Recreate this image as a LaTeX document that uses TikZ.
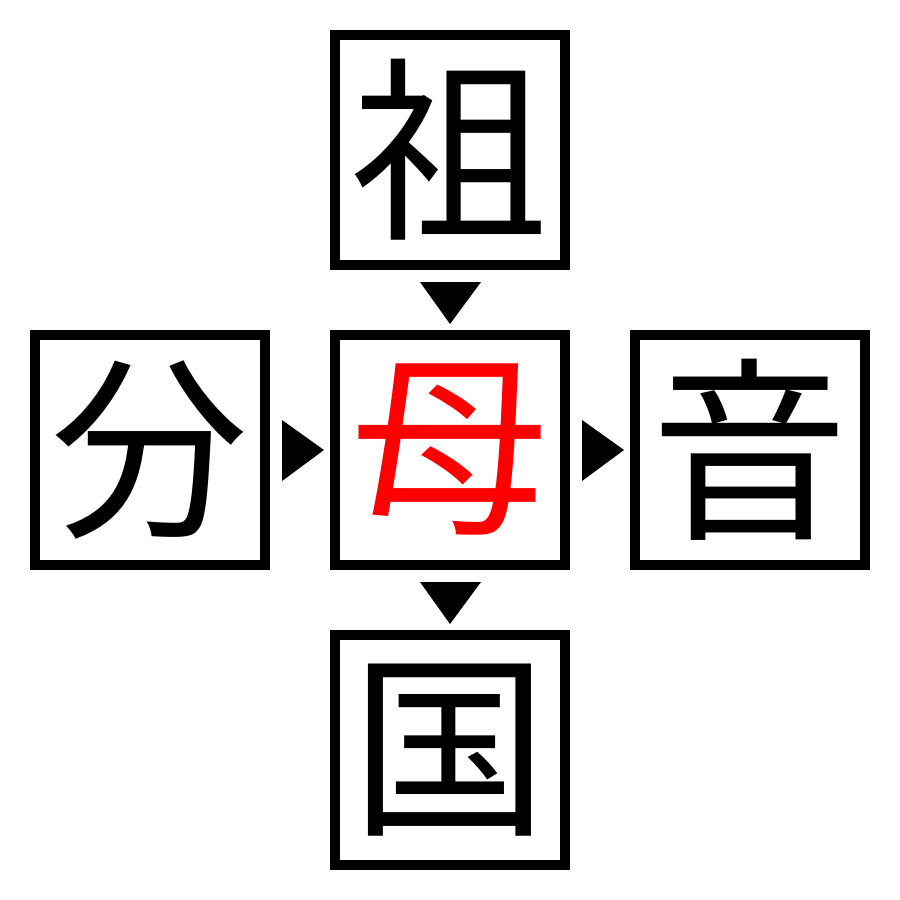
\documentclass[tikz,border=0pt]{standalone}
\usepackage{fontspec}
\newfontfamily\cjk{Noto Sans CJK JP}
\begin{document}
\begin{tikzpicture}[x=0.025cm,y=-0.025cm,
  kbox/.style={draw=black,line width=0.25cm,minimum size=5.75cm,inner sep=0pt,
    font=\cjk\fontsize{140pt}{140pt}\selectfont},
  tri/.style={fill=black}]
\useasboundingbox (0,0) rectangle (900,900);
\node[kbox] (top) at (450,150) {祖};
\node[kbox] (left) at (150,450) {分};
\node[kbox,text=red] (mid) at (450,450) {母};
\node[kbox] (right) at (750,450) {音};
\node[kbox] (bot) at (450,750) {国};
\fill[tri] (420,282) -- (481,282) -- (450,324) -- cycle;
\fill[tri] (420,582) -- (481,582) -- (450,624) -- cycle;
\fill[tri] (282,420) -- (282,481) -- (324,450) -- cycle;
\fill[tri] (582,420) -- (582,481) -- (624,450) -- cycle;
\end{tikzpicture}
\end{document}
